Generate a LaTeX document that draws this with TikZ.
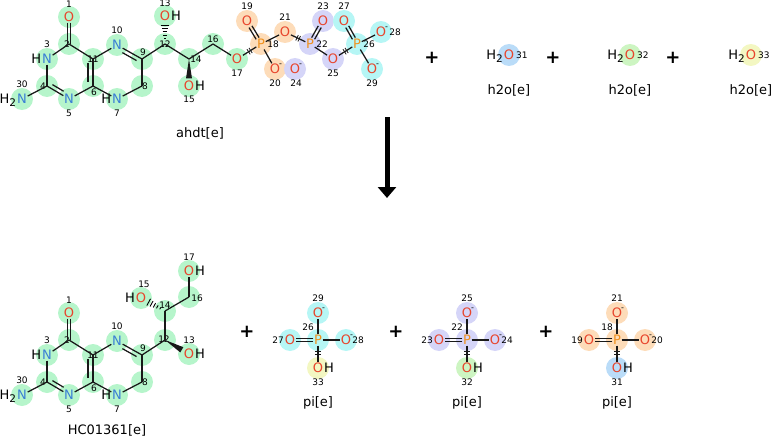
\documentclass[tikz,border=0pt]{standalone}
\usepackage{fontspec}
\setmainfont{DejaVu Sans}
\usetikzlibrary{calc,arrows.meta,decorations.markings}
\pgfdeclarelayer{bg}
\pgfsetlayers{bg,main}
\definecolor{hlg}{HTML}{B6F5CB}
\definecolor{hlo}{HTML}{FDDCB9}
\definecolor{hll}{HTML}{D5D5F8}
\definecolor{hlc}{HTML}{B6F6F5}
\definecolor{hlb}{HTML}{BADCF8}
\definecolor{hly}{HTML}{F3F7C2}
\definecolor{hlgg}{HTML}{CDF5C2}
\definecolor{ocol}{HTML}{E8452C}
\definecolor{ncol}{HTML}{3A7FD5}
\definecolor{pcol}{HTML}{F0901C}
\newcommand{\htwo}{H\smash{\raisebox{-3pt}{\fontsize{10.5}{10.5}\selectfont 2}}}

\begin{document}
\begin{tikzpicture}[x=1pt,y=-1pt,
    atom/.style={inner sep=0.6pt,font=\fontsize{13}{13}\selectfont},
    oxy/.style={atom,text=ocol},
    nit/.style={atom,text=ncol},
    pho/.style={atom,text=pcol},
    hyd/.style={inner sep=0pt,font=\fontsize{13}{13}\selectfont,text=black},
    chg/.style={inner sep=0pt,font=\fontsize{8}{8}\selectfont,text=black,xshift=-2pt,yshift=-3pt},
    num/.style={inner sep=0pt,font=\fontsize{9}{9}\selectfont},
    molname/.style={font=\fontsize{13}{13}\selectfont},
    plus/.style={font=\fontsize{18}{18}\selectfont\bfseries},
    bond/.style={line width=1.25pt,draw=black!90},
    ticks/.style={postaction={decorate},decoration={markings,mark=at position #1 with {\draw[line width=0.8pt] (-1.2pt,-3pt)--(-1.2pt,3pt) (1.2pt,-3pt)--(1.2pt,3pt);}}},
    rxn/.style={line width=5pt,-{Triangle[width=18pt,length=11pt]}}]
  \useasboundingbox (0,0) rectangle (774,436);

  % pterin core, substrate (a) and product (b)
  \foreach \m/\dy in {a/0,b/296}{
    \begin{scope}[shift={(0,\dy)}]
      \foreach \n/\x/\y in {2/69/44,4/47/86,6/93/86,11/93/59,9/142/59,8/142/86}
        \coordinate (\m\n) at (\x,\y);
      \node[oxy] (\m1) at (69,17) {O};
      \node[nit,label={[hyd]left:H}] (\m3) at (47,59) {N};
      \node[nit] (\m5) at (69,99) {N};
      \node[nit,label={[hyd]left:H}] (\m7) at (117,99) {N};
      \node[nit] (\m10) at (117,45) {N};
      \node[nit,label={[hyd]left:\htwo}] (\m30) at (22,99) {N};
      \foreach \n/\x/\y in {1/69/4,2/67/44,3/47/44,4/43/86,5/69/113,6/94/92,7/117/113,8/145/86,9/143/52,10/117/30,11/93/59,30/22/84}
        \node[num] (\m n\n) at (\x,\y) {\n};
      \begin{pgfonlayer}{bg}
        \foreach \n in {1,2,3,4,5,6,7,8,9,10,11,30}
          \fill[hlg] (\m\n) circle (11pt);
      \end{pgfonlayer}
      \foreach \i/\j in {2/3,3/4,4/5,5/6,6/11,11/2,11/10,10/9,9/8,8/7,7/6,4/30}
        \draw[bond] (\m\i) -- (\m\j);
      \draw[bond,transform canvas={xshift=-1.8pt}] (\m1) -- (\m2);
      \draw[bond,transform canvas={xshift=1.8pt}] (\m1) -- (\m2);
      \draw[bond,shorten <=4pt,shorten >=2pt,transform canvas={shift={(2pt,3.4pt)}}] (\m4) -- (\m5);
      \draw[bond,shorten <=4pt,shorten >=4pt,transform canvas={xshift=-5pt}] (\m6) -- (\m11);
      \draw[bond,shorten <=2pt,shorten >=4pt,transform canvas={shift={(-2pt,-3.5pt)}}] (\m10) -- (\m9);
    \end{scope}
  }

  % ahdt side chain
  \coordinate (a12) at (165,44);
  \coordinate (a14) at (189,59);
  \coordinate (a16) at (213,44);
  \node[oxy,label={[hyd]right:H}] (a13) at (165,16) {O};
  \node[oxy,label={[hyd]right:H}] (a15) at (189,86) {O};
  \node[oxy] (a17) at (237,59) {O};
  \node[pho] (a18) at (261,44) {P};
  \node[oxy] (a19) at (247,21) {O};
  \node[oxy,label={[chg]north east:-}] (a20) at (275,69) {O};
  \node[oxy] (a21) at (285,32) {O};
  \node[pho] (a22) at (310,44) {P};
  \node[oxy] (a23) at (323,21) {O};
  \node[oxy,label={[chg]north east:-}] (a24) at (295,69) {O};
  \node[oxy] (a25) at (333,59) {O};
  \node[pho] (a26) at (357,44) {P};
  \node[oxy] (a27) at (344,21) {O};
  \node[oxy,label={[chg]north east:-}] (a28) at (381,32) {O};
  \node[oxy,label={[chg]north east:-}] (a29) at (372,69) {O};
  \foreach \n/\x/\y in {12/165/44,13/165/3,14/196/59,15/189/99,16/213/39,17/237/73,18/273/44,19/247/6,20/275/83,21/285/17,22/322/44,23/323/6,24/296/83,25/333/73,26/369/44,27/344/6,28/395/32,29/372/83}
    \node[num] (an\n) at (\x,\y) {\n};
  \begin{pgfonlayer}{bg}
    \foreach \n in {12,13,14,15,16,17} \fill[hlg] (a\n) circle (11pt);
    \foreach \n in {18,19,20,21} \fill[hlo] (a\n) circle (11pt);
    \foreach \n in {22,23,24,25} \fill[hll] (a\n) circle (11pt);
    \foreach \n in {26,27,28,29} \fill[hlc] (a\n) circle (11pt);
  \end{pgfonlayer}
  \foreach \i/\j in {9/12,12/14,14/16,16/17,18/20,18/21,22/25,26/28,26/29}
    \draw[bond] (a\i) -- (a\j);
  \draw[bond,ticks=0.5] (a17) -- (a18);
  \draw[bond,ticks=0.5] (a21) -- (a22);
  \draw[bond,ticks=0.5] (a25) -- (a26);
  \draw[bond,transform canvas={shift={(1.45pt,0.88pt)}}] (a18) -- (a19);
  \draw[bond,transform canvas={shift={(-1.45pt,-0.88pt)}}] (a18) -- (a19);
  \draw[bond,transform canvas={shift={(1.48pt,-0.83pt)}}] (a22) -- (a23);
  \draw[bond,transform canvas={shift={(-1.48pt,0.83pt)}}] (a22) -- (a23);
  \draw[bond,transform canvas={shift={(1.45pt,0.88pt)}}] (a26) -- (a27);
  \draw[bond,transform canvas={shift={(-1.45pt,-0.88pt)}}] (a26) -- (a27);
  \foreach \t/\w in {0.2/1pt,0.32/1.7pt,0.44/2.4pt,0.56/3.1pt,0.68/3.8pt}
    \draw[line width=0.9pt] ($(a12)!\t!(a13)!\w!90:(a13)$) -- ($(a12)!\t!(a13)!\w!-90:(a13)$);
  \fill[black!90] (a14) -- ($(a14)!0.72!(a15)!3pt!90:(a15)$) -- ($(a14)!0.72!(a15)!3pt!-90:(a15)$) -- cycle;

  % HC01361 side chain
  \coordinate (b12) at (165,340);
  \coordinate (b14) at (165,311);
  \coordinate (b16) at (189,297);
  \node[oxy,label={[hyd]right:H}] (b13) at (189,354) {O};
  \node[oxy,label={[hyd]left:H}] (b15) at (141,298) {O};
  \node[oxy,label={[hyd]right:H}] (b17) at (189,271) {O};
  \foreach \n/\x/\y in {12/164/339,13/189/340,14/165/305,15/144/284,16/197/298,17/189/257}
    \node[num] (bn\n) at (\x,\y) {\n};
  \begin{pgfonlayer}{bg}
    \foreach \n in {12,13,14,15,16,17} \fill[hlg] (b\n) circle (11pt);
  \end{pgfonlayer}
  \foreach \i/\j in {9/12,12/14,14/16,16/17}
    \draw[bond] (b\i) -- (b\j);
  \fill[black!90] (b12) -- ($(b12)!0.7!(b13)!3pt!90:(b13)$) -- ($(b12)!0.7!(b13)!3pt!-90:(b13)$) -- cycle;
  \foreach \t/\w in {0.2/1pt,0.32/1.7pt,0.44/2.4pt,0.56/3.1pt,0.68/3.8pt}
    \draw[line width=0.9pt] ($(b14)!\t!(b15)!\w!90:(b15)$) -- ($(b14)!\t!(b15)!\w!-90:(b15)$);

  % water
  \foreach \k/\px/\hc in {1/509/hlb,2/630/hlgg,3/751/hly}{
    \node[oxy,label={[hyd]left:\htwo}] (w\k) at (\px,55) {O};
    \begin{pgfonlayer}{bg}
      \fill[\hc] (w\k) circle (11pt);
    \end{pgfonlayer}
  }
  \node[num,anchor=west,xshift=1pt] (wn1) at (w1.east) {31};
  \node[num,anchor=west,xshift=1pt] (wn2) at (w2.east) {32};
  \node[num,anchor=west,xshift=1pt] (wn3) at (w3.east) {33};

  % phosphate
  \foreach \k/\px/\hc/\oc/\np/\nt/\nl/\nr/\nb in {1/318/hlc/hly/26/29/27/28/33,2/467/hll/hlgg/22/25/23/24/32,3/617/hlo/hlb/18/21/19/20/31}{
    \node[pho] (p\k) at (\px,340) {P};
    \node[oxy,label={[chg]north east:-}] (p\k t) at (\px,313) {O};
    \node[oxy] (p\k l) at ({\px-28},340) {O};
    \node[oxy,label={[chg]north east:-}] (p\k r) at ({\px+28},340) {O};
    \node[oxy,label={[hyd]right:H}] (p\k b) at (\px,368) {O};
    \node[num] (p\k np) at ({\px-10},327) {\np};
    \node[num] (p\k nt) at (\px,298) {\nt};
    \node[num] (p\k nl) at ({\px-40},340) {\nl};
    \node[num] (p\k nr) at ({\px+40},340) {\nr};
    \node[num] (p\k nb) at (\px,382) {\nb};
    \node[molname] (pi\k) at (\px,403) {pi[e]};
    \begin{pgfonlayer}{bg}
      \foreach \s in {,t,l,r} \fill[\hc] (p\k\s) circle (11pt);
      \fill[\oc] (p\k b) circle (11pt);
    \end{pgfonlayer}
    \draw[bond] (p\k) -- (p\k t);
    \draw[bond] (p\k) -- (p\k r);
    \draw[bond,ticks=0.45] (p\k) -- (p\k b);
    \draw[bond,transform canvas={yshift=1.8pt}] (p\k) -- (p\k l);
    \draw[bond,transform canvas={yshift=-1.8pt}] (p\k) -- (p\k l);
  }

  % names, plus signs, arrow
  \node[molname] (ahdt) at (200,133) {ahdt[e]};
  \node[molname] (hc) at (107,430) {HC01361[e]};
  \node[molname] (h2o1) at (509,90) {h2o[e]};
  \node[molname] (h2o2) at (630,90) {h2o[e]};
  \node[molname] (h2o3) at (751,90) {h2o[e]};
  \foreach \k/\x/\y in {1/432/58,2/553/58,3/673/58,4/247/332,5/396/332,6/546/332}
    \node[plus] (plus\k) at (\x,\y) {+};
  \coordinate (arrtop) at (387,117);
  \coordinate (arrbot) at (387,198);
  \draw[rxn] (arrtop) -- (arrbot);
\end{tikzpicture}
\end{document}
